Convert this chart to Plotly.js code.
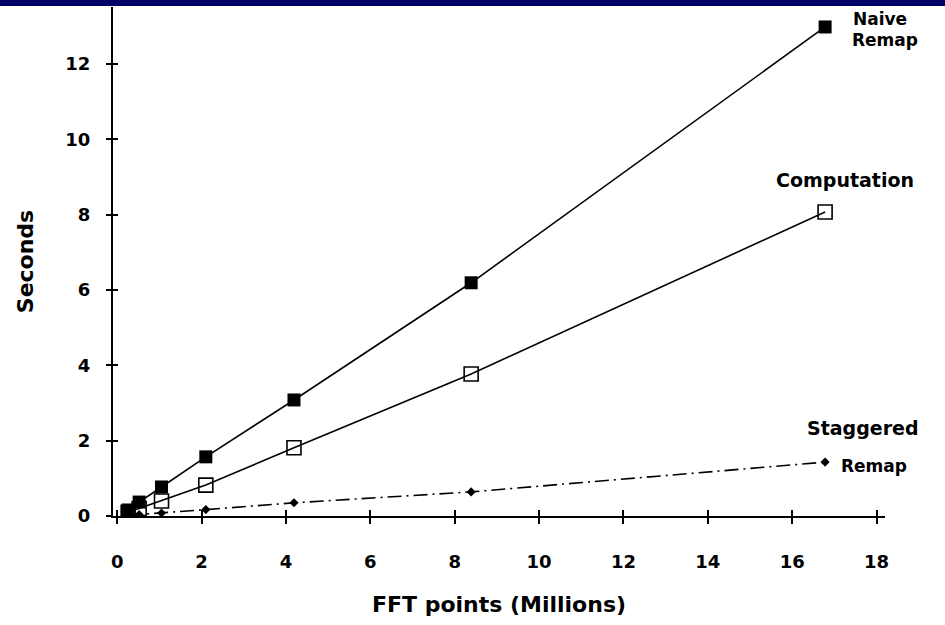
<!DOCTYPE html>
<html>
<head>
<meta charset="utf-8">
<script src="https://cdn.plot.ly/plotly-3.0.1.min.js"></script>
<style>
html,body{margin:0;padding:0;background:#fff;}
#wrap{position:relative;width:945px;height:625px;}
#bar{position:absolute;left:0;top:0;width:945px;height:6px;background:#000066;z-index:10;}
#chart{position:absolute;left:0;top:0;width:945px;height:625px;}
</style>
</head>
<body>
<div id="wrap"><div id="bar"></div><div id="chart"></div></div>
<script>
// FFT points (millions)
const fftPoints = [0.26, 0.52, 1.05, 2.1, 4.19, 8.39, 16.78];
// Seconds
const naiveRemap = [0.16, 0.37, 0.77, 1.57, 3.08, 6.19, 12.98];
const computation = [0.10, 0.20, 0.40, 0.82, 1.81, 3.77, 8.07];
const staggeredRemap = [0.02, 0.04, 0.08, 0.17, 0.35, 0.64, 1.43];

const xTicks = [0, 2, 4, 6, 8, 10, 12, 14, 16, 18];
const yTicks = [0, 2, 4, 6, 8, 10, 12];

const tickFont = {family: 'DejaVu Sans', size: 18, color: '#000', weight: 'bold'};
const labelFont = {family: 'DejaVu Sans', size: 17, color: '#000', weight: 'bold'};
const labelFontWide = {family: 'DejaVu Sans', size: 19, color: '#000', weight: 'bold'};

const traces = [
  {x: fftPoints, y: naiveRemap, name: 'Naive Remap', mode: 'lines+markers',
   line: {color: '#000', width: 1.6},
   marker: {symbol: 'square', size: 13, color: '#000'}},
  {x: fftPoints, y: computation, name: 'Computation', mode: 'lines+markers',
   line: {color: '#000', width: 1.6},
   marker: {symbol: 'square-open', size: 14, color: '#000', line: {width: 1.6}}},
  {x: fftPoints, y: staggeredRemap, name: 'Staggered Remap', mode: 'lines+markers',
   line: {color: '#000', width: 1.6, dash: '14px,5px,2px,5px'},
   marker: {symbol: 'diamond', size: 7, color: '#000'}},
  {x: [], y: [], xaxis: 'x2', yaxis: 'y2', showlegend: false}
];

const layout = {
  width: 945, height: 625,
  margin: {l: 113, r: 60, t: 7, b: 109},
  paper_bgcolor: '#fff', plot_bgcolor: '#fff',
  showlegend: false,
  xaxis: {
    range: [-0.1, 18.2], tickvals: xTicks, ticktext: xTicks.map(String),
    showgrid: false, zeroline: false, showline: true, linecolor: '#000', linewidth: 2,
    ticks: 'outside', ticklen: 6, tickwidth: 2, tickcolor: '#000',
    tickfont: tickFont, ticklabelstandoff: 22,
    title: {text: 'FFT points (Millions)', font: {family: 'DejaVu Sans', size: 22, color: '#000', weight: 'bold'}, standoff: 26}
  },
  yaxis: {
    range: [0, 13.51], tickvals: yTicks, ticktext: yTicks.map(String),
    showgrid: false, zeroline: false, showline: true, linecolor: '#000', linewidth: 2,
    ticks: 'outside', ticklen: 5, tickwidth: 2, tickcolor: '#000',
    tickfont: tickFont, ticklabelstandoff: 12,
    title: {text: 'Seconds', font: {family: 'DejaVu Sans', size: 22, color: '#000', weight: 'bold'}, standoff: 26}
  },
  xaxis2: {overlaying: 'x', matches: 'x', range: [-0.1, 18.2], tickvals: xTicks, showticklabels: false,
    showgrid: false, zeroline: false, showline: false, ticks: 'inside', ticklen: 6, tickwidth: 2, tickcolor: '#000', anchor: 'y2'},
  yaxis2: {overlaying: 'y', matches: 'y', range: [0, 13.51], tickvals: yTicks, showticklabels: false,
    showgrid: false, zeroline: false, showline: false, ticks: 'inside', ticklen: 5, tickwidth: 2, tickcolor: '#000', anchor: 'x2'},
  annotations: [
    {x: 17.4, y: 13.19, xref: 'x', yref: 'y', text: 'Naive', showarrow: false, xanchor: 'left', yanchor: 'middle', font: labelFont},
    {x: 17.38, y: 12.64, xref: 'x', yref: 'y', text: 'Remap', showarrow: false, xanchor: 'left', yanchor: 'middle', font: labelFont},
    {x: 15.56, y: 8.92, xref: 'x', yref: 'y', text: 'Computation', showarrow: false, xanchor: 'left', yanchor: 'middle', font: labelFontWide},
    {x: 16.31, y: 2.34, xref: 'x', yref: 'y', text: 'Staggered', showarrow: false, xanchor: 'left', yanchor: 'middle', font: labelFontWide},
    {x: 17.1, y: 1.33, xref: 'x', yref: 'y', text: 'Remap', showarrow: false, xanchor: 'left', yanchor: 'middle', font: labelFont}
  ]
};

Plotly.newPlot('chart', traces, layout, {staticPlot: true, displayModeBar: false});
</script>
</body>
</html>
